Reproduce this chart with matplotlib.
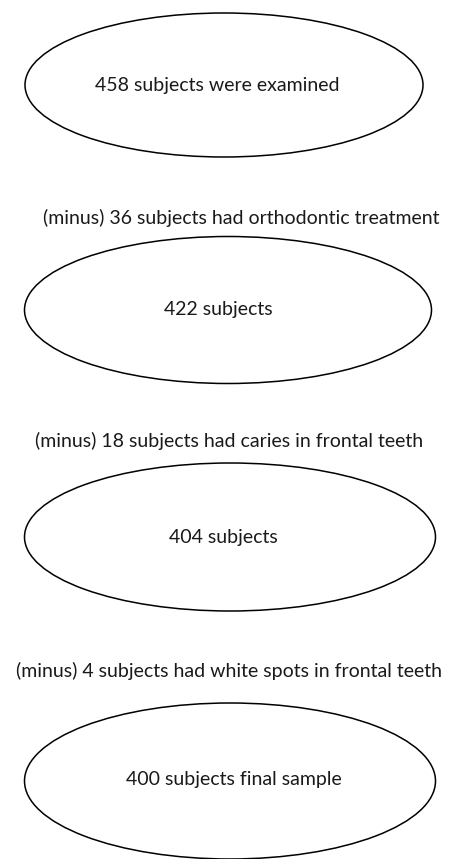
import matplotlib.pyplot as plt
from matplotlib.patches import Ellipse

# Flow of subjects through the exclusion steps
counts = [458, 422, 404, 400]
node_labels = ["458 subjects were examined", "422 subjects", "404 subjects",
               "400 subjects final sample"]
excluded = [36, 18, 4]
exclusion_reasons = ["orthodontic treatment", "caries in frontal teeth",
                     "white spots in frontal teeth"]

# Layout in pixel coordinates (x right, y down)
ellipse_centers = [(224, 85), (228, 310), (230, 537), (230, 781)]
ellipse_sizes = [(398, 144), (407, 147), (411, 148), (411, 156)]
node_text_pos = [(217, 85), (218, 310), (223, 538), (234, 780)]
step_text_pos = [(241, 218), (229, 441), (229, 671)]

plt.rcParams['font.family'] = ['Lato', 'DejaVu Sans']

fig = plt.figure(figsize=(4.5, 8.59), dpi=100)
ax = fig.add_axes([0, 0, 1, 1])
ax.set_xlim(0, 450)
ax.set_ylim(859, 0)
ax.axis('off')

for (cx, cy), (w, h) in zip(ellipse_centers, ellipse_sizes):
    ax.add_patch(Ellipse((cx, cy), w, h, facecolor='white', edgecolor='black', linewidth=1.1))

for label, (tx, ty) in zip(node_labels, node_text_pos):
    ax.text(tx, ty, label, ha='center', va='center', fontsize=14, color='#1a1a1a')

for n, reason, (tx, ty) in zip(excluded, exclusion_reasons, step_text_pos):
    ax.text(tx, ty, f"(minus) {n} subjects had {reason}", ha='center', va='center',
            fontsize=14, color='#1a1a1a')

fig.savefig('out.png', dpi=100)
